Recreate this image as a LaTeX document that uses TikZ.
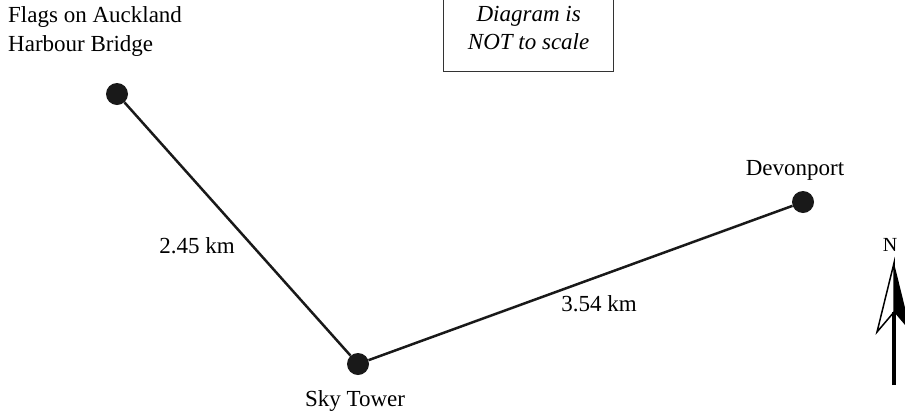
\documentclass[tikz,border=0pt]{standalone}
\usepackage{fontspec}
\setmainfont{Liberation Serif}
\usetikzlibrary{positioning}

\begin{document}
\begin{tikzpicture}[
  x=1pt,y=-1pt,
  node distance=4pt,
  place/.style={circle,fill=black!90,inner sep=0pt,minimum size=22pt},
  txt/.style={font=\fontsize{23}{29}\selectfont,inner sep=0pt},
  leg/.style={line width=2.5pt,black!90}
]
\clip (0,0) rectangle (905,416);
\node[place] (flags) at (117,94) {};
\node[place] (sky) at (358,364) {};
\node[place] (devon) at (803,202) {};
\draw[leg] (flags)--(sky);
\draw[leg] (sky)--(devon);
\node[txt,anchor=north west,align=left] (flagslbl) at (8,6) {Flags on Auckland\\Harbour Bridge};
\node[txt,anchor=base] (devonlbl) at (795,175) {Devonport};
\node[txt,anchor=base] (skylbl) at (355,406) {Sky Tower};
\node[txt] (dista) at (197,246) {2.45 km};
\node[txt] (distb) at (599,304) {3.54 km};
\node[txt,align=center,font=\fontsize{23}{28}\selectfont\itshape,draw=black!80,line width=1.3pt,
  minimum width=170pt,minimum height=86pt,anchor=south west] (note) at (443,72) {\raisebox{10pt}{\parbox{160pt}{\centering Diagram is\\NOT to scale}}};
% north arrow
\coordinate (tip) at (894,263);
\coordinate (notch) at (894,312);
\coordinate (foot) at (894,385);
\node[font=\fontsize{20}{24}\selectfont,inner sep=0pt,anchor=base] (north) at (890,251) {N};
\draw[line width=4.5pt] (foot)--(notch);
\fill (tip)--(911,332)--(notch)--cycle;
\draw[line width=1.5pt,line join=miter] (tip)--(877,332)--(notch)--cycle;
\end{tikzpicture}
\end{document}
